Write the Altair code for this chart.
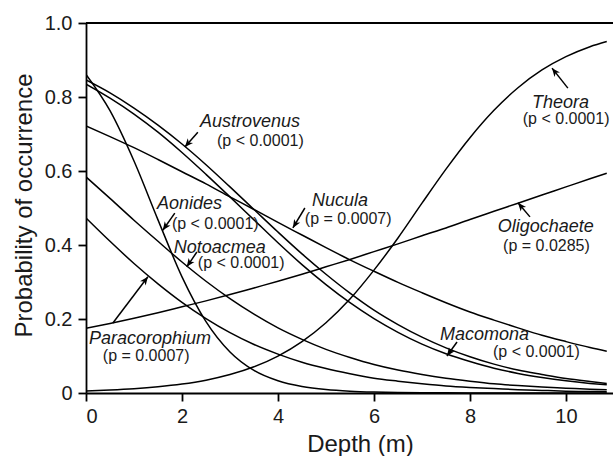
import math
import altair as alt
import pandas as pd

# ---------------- data ----------------
depth = [0, 0.5, 1, 1.5, 2, 2.5, 3, 3.5, 4, 4.5, 5, 5.5, 6, 6.5, 7, 7.5, 8,
         8.5, 9, 9.5, 10, 10.5, 10.85]

theora = [0.0055, 0.0080, 0.0115, 0.0167, 0.0241, 0.0347, 0.0498, 0.0708, 0.0998,
          0.139, 0.190, 0.254, 0.332, 0.419, 0.513, 0.605, 0.690, 0.764, 0.825,
          0.873, 0.909, 0.936, 0.950]
oligochaete = [0.175, 0.188, 0.202, 0.217, 0.233, 0.249, 0.266, 0.284, 0.302, 0.321,
               0.341, 0.361, 0.382, 0.403, 0.425, 0.446, 0.469, 0.491, 0.513, 0.535,
               0.557, 0.579, 0.594]
nucula = [0.722, 0.693, 0.663, 0.631, 0.598, 0.565, 0.530, 0.496, 0.461, 0.427,
          0.393, 0.360, 0.329, 0.299, 0.271, 0.244, 0.219, 0.197, 0.176, 0.156,
          0.139, 0.123, 0.113]
austrovenus = [0.846, 0.811, 0.770, 0.724, 0.673, 0.617, 0.557, 0.496, 0.435, 0.376,
               0.321, 0.270, 0.224, 0.185, 0.151, 0.122, 0.098, 0.078, 0.062, 0.050,
               0.039, 0.031, 0.026]
macomona = [0.835, 0.797, 0.754, 0.705, 0.650, 0.591, 0.530, 0.468, 0.406, 0.347,
            0.293, 0.244, 0.201, 0.164, 0.132, 0.106, 0.085, 0.067, 0.053, 0.042,
            0.033, 0.026, 0.022]
aonides = [0.861, 0.763, 0.627, 0.468, 0.314, 0.193, 0.111, 0.061, 0.033, 0.0175,
           0.0092, 0.0048, 0.0025, 0.0013, 0.0007, 0.0004, 0.0002, 0.0001, 0.0001,
           0.0, 0.0, 0.0, 0.0]
notoacmea = [0.584, 0.526, 0.467, 0.410, 0.354, 0.302, 0.255, 0.213, 0.176, 0.145,
             0.118, 0.096, 0.077, 0.062, 0.050, 0.040, 0.032, 0.025, 0.020, 0.016,
             0.013, 0.010, 0.0085]
paracorophium = [0.473, 0.410, 0.350, 0.295, 0.245, 0.201, 0.163, 0.131, 0.105, 0.083,
                 0.066, 0.052, 0.040, 0.032, 0.025, 0.019, 0.015, 0.012, 0.009, 0.007,
                 0.005, 0.004, 0.0035]

series = {
    "Theora": theora, "Oligochaete": oligochaete, "Nucula": nucula,
    "Austrovenus": austrovenus, "Macomona": macomona, "Aonides": aonides,
    "Notoacmea": notoacmea, "Paracorophium": paracorophium,
}

# annotations (data units)
ann_names = ["Austrovenus", "Aonides", "Notoacmea", "Paracorophium", "Nucula",
             "Theora", "Oligochaete", "Macomona"]
ann_pvals = ["(p < 0.0001)", "(p < 0.0001)", "(p < 0.0001)", "(p = 0.0007)",
             "(p = 0.0007)", "(p < 0.0001)", "(p = 0.0285)", "(p < 0.0001)"]
name_x = [2.375, 1.48, 1.83, 0.06, 4.71, 9.29, 8.58, 7.375]
name_y = [0.719, 0.497, 0.378, 0.132, 0.505, 0.770, 0.435, 0.143]
pval_x = [2.73, 1.79, 2.33, 0.35, 4.56, 9.10, 8.69, 8.48]
pval_y = [0.668, 0.443, 0.338, 0.086, 0.457, 0.727, 0.384, 0.097]
tail_x = [2.33, 1.85, 2.31, 0.56, 4.56, 10.04, 9.25, 7.73]
tail_y = [0.705, 0.486, 0.381, 0.189, 0.500, 0.824, 0.476, 0.138]
tip_x = [2.06, 1.60, 2.10, 1.29, 4.31, 9.71, 9.00, 7.52]
tip_y = [0.665, 0.440, 0.341, 0.314, 0.446, 0.878, 0.514, 0.100]

# ---------------- layout ----------------
W, H = 527, 370
XMAX = 10.98
FONT = "Liberation Sans"

rows = []
for name, vals in series.items():
    for d, v in zip(depth, vals):
        rows.append({"species": name, "depth": d, "p": v})
df = pd.DataFrame(rows)

kx = W / XMAX
ky = H / 1.0
angles = []
for tx, ty, hx, hy in zip(tail_x, tail_y, tip_x, tip_y):
    dxp = (hx - tx) * kx
    dyp = -(hy - ty) * ky
    angles.append(math.degrees(math.atan2(dyp, dxp)) % 360)

ann = pd.DataFrame({
    "name": ann_names, "pval": ann_pvals,
    "nx": name_x, "ny": name_y, "px": pval_x, "py": pval_y,
    "tx": tail_x, "ty": tail_y, "hx": tip_x, "hy": tip_y, "ang": angles,
})

xscale = alt.Scale(domain=[0, XMAX], nice=False, zero=False)
yscale = alt.Scale(domain=[0, 1], nice=False, zero=False)

x_axis = alt.Axis(values=[0, 2, 4, 6, 8, 10],
                  titleX=274, titleY=58, titleBaseline="alphabetic",
                  titleAlign="center", titleAnchor="start")
y_axis = alt.Axis(values=[0, 0.2, 0.4, 0.6, 0.8, 1.0],
                  labelExpr="datum.value == 0 ? '0' : format(datum.value, '.1f')",
                  titleX=-55, titleY=182, titleAngle=270,
                  titleBaseline="alphabetic", titleAlign="center",
                  titleAnchor="start")
XT = "Depth (m)"
YT = "Probability of occurrence"


def X(field):
    return alt.X(field, scale=xscale, axis=x_axis, title=XT)


def Y(field):
    return alt.Y(field, scale=yscale, axis=y_axis, title=YT)


lines = alt.Chart(df).mark_line(color="black", strokeWidth=1.5,
                                interpolate="monotone", clip=True).encode(
    x=X("depth:Q"), y=Y("p:Q"), detail="species:N",
)

top_rule = alt.Chart(pd.DataFrame({"v": [1.0]})).mark_rule(
    color="black", strokeWidth=1.8).encode(y=Y("v:Q"))

arrow_lines = alt.Chart(ann).mark_rule(color="black", strokeWidth=1.5).encode(
    x=X("tx:Q"), y=Y("ty:Q"), x2="hx:Q", y2="hy:Q",
)

arrow_heads = alt.Chart(ann).mark_point(
    shape="M0,0 L-1,-0.42 L-0.72,0 L-1,0.42 Z", filled=True, size=280,
    color="black", opacity=1, strokeWidth=0.5).encode(
    x=X("hx:Q"), y=Y("hy:Q"),
    angle=alt.Angle("ang:Q", scale=None),
)

name_text = alt.Chart(ann).mark_text(
    align="left", baseline="alphabetic", font=FONT, fontSize=18,
    fontStyle="italic", color="#1a1a1a").encode(
    x=X("nx:Q"), y=Y("ny:Q"), text="name:N",
)

pval_text = alt.Chart(ann).mark_text(
    align="left", baseline="alphabetic", font=FONT, fontSize=16,
    color="#1a1a1a").encode(
    x=X("px:Q"), y=Y("py:Q"), text="pval:N",
)

chart = alt.layer(lines, top_rule, arrow_lines, arrow_heads, name_text, pval_text).properties(
    width=W, height=H,
    autosize=alt.AutoSizeParams(type="none"),
    padding={"left": 86, "top": 23, "right": 0, "bottom": 63},
).configure_view(stroke=None).configure_axis(
    grid=False, domainColor="black", domainWidth=1.8, tickColor="black",
    tickWidth=1.8, tickSize=8, labelFont=FONT, labelFontSize=20,
    labelColor="#1a1a1a", labelPadding=5, titleFont=FONT, titleFontSize=24,
    titleFontWeight="normal", titleColor="#1a1a1a",
).configure_axisY(labelPadding=6)

chart.save("out.html", embed_options={"renderer": "svg", "actions": False})
